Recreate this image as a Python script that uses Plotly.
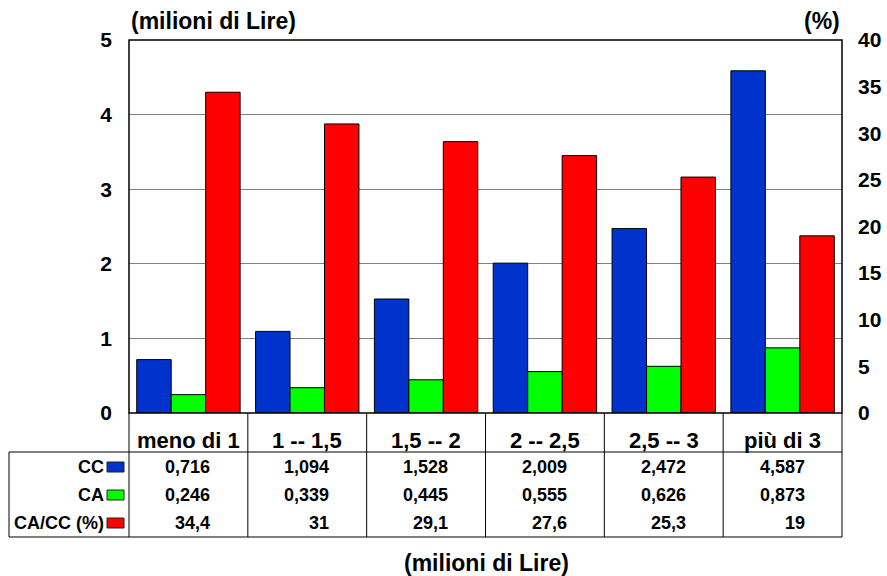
import plotly.graph_objects as go

categories = ["meno di 1", "1 -- 1,5", "1,5 -- 2", "2 -- 2,5", "2,5 -- 3", "più di 3"]
cc = [0.716, 1.094, 1.528, 2.009, 2.472, 4.587]
ca = [0.246, 0.339, 0.445, 0.555, 0.626, 0.873]
ratio = [34.4, 31, 29.1, 27.6, 25.3, 19]
cc_labels = ["0,716", "1,094", "1,528", "2,009", "2,472", "4,587"]
ca_labels = ["0,246", "0,339", "0,445", "0,555", "0,626", "0,873"]
ratio_labels = ["34,4", "31", "29,1", "27,6", "25,3", "19"]
row_names = ["CC", "CA", "CA/CC (%)"]

BLUE = "#0033CC"
GREEN = "#00FF00"
RED = "#FF0000"
FONT = "Liberation Sans, Arial, sans-serif"

W, H = 887, 576
L, R, T, B = 129, 45, 40, 163
pw, ph = W - L - R, H - T - B


def py(y):
    """pixel row -> paper y"""
    return (H - B - y) / ph


def px(x):
    """pixel column -> paper x"""
    return (x - L) / pw


def bold(size):
    return dict(size=size, family=FONT, color="black", weight="bold")


fig = go.Figure()
bar_line = dict(color="black", width=1)
fig.add_bar(x=categories, y=cc, marker=dict(color=BLUE, line=bar_line),
            offsetgroup="1", yaxis="y", name="CC")
fig.add_bar(x=categories, y=ca, marker=dict(color=GREEN, line=bar_line),
            offsetgroup="2", yaxis="y", name="CA")
fig.add_bar(x=categories, y=ratio, marker=dict(color=RED, line=bar_line),
            offsetgroup="3", yaxis="y2", name="CA/CC (%)")

shapes = []
annotations = []
line_k = dict(color="black", width=1)

# plot frame
shapes.append(dict(type="rect", xref="paper", yref="paper", x0=0, x1=1, y0=0, y1=1,
                   line=dict(color="black", width=1.5)))

# data table below the plot
header_bottom = py(452)
table_bottom = py(537)
left_edge = px(9)
shapes.append(dict(type="line", xref="paper", yref="paper", x0=left_edge, x1=1,
                   y0=header_bottom, y1=header_bottom, line=line_k))
shapes.append(dict(type="line", xref="paper", yref="paper", x0=left_edge, x1=1,
                   y0=table_bottom, y1=table_bottom, line=line_k))
shapes.append(dict(type="line", xref="paper", yref="paper", x0=left_edge, x1=left_edge,
                   y0=header_bottom, y1=table_bottom, line=line_k))
for i in range(len(categories) + 1):
    xp = i / len(categories)
    shapes.append(dict(type="line", xref="paper", yref="paper", x0=xp, x1=xp,
                       y0=0, y1=table_bottom, line=line_k))

for cat in categories:
    annotations.append(dict(x=cat, y=py(440), xref="x", yref="paper", text=cat,
                            xanchor="center", yanchor="middle",
                            showarrow=False, font=bold(22)))

rows = [cc_labels, ca_labels, ratio_labels]
row_y = [py(467), py(495), py(523)]
colors = [BLUE, GREEN, RED]
for labels, yy, name, col in zip(rows, row_y, row_names, colors):
    annotations.append(dict(x=px(106), y=yy, xref="paper", yref="paper", text=name,
                            xanchor="right", yanchor="middle", showarrow=False,
                            font=bold(18)))
    shapes.append(dict(type="rect", xref="paper", yref="paper", x0=px(107), x1=px(124),
                       y0=yy - 5 / ph, y1=yy + 5 / ph, fillcolor=col,
                       line=dict(color="#222222", width=1)))
    # values are right-aligned inside each column
    for cat, lab in zip(categories, labels):
        annotations.append(dict(x=cat, y=yy, xref="x", yref="paper", text=lab,
                                xanchor="right", yanchor="middle",
                                xshift=24, showarrow=False, font=bold(18)))

# axis captions
annotations.append(dict(x=0, y=py(21), xref="paper", yref="paper", text="(milioni di Lire)",
                        xanchor="left", yanchor="middle", showarrow=False, font=bold(23)))
annotations.append(dict(x=1, y=py(21), xref="paper", yref="paper", text="(%)",
                        xanchor="right", yanchor="middle", showarrow=False, font=bold(23)))
annotations.append(dict(x=px(486), y=py(563), xref="paper", yref="paper",
                        text="(milioni di Lire)", xanchor="center", yanchor="middle",
                        showarrow=False, font=bold(23)))

fig.update_layout(
    width=W, height=H,
    margin=dict(l=L, r=R, t=T, b=B, pad=0, autoexpand=False),
    paper_bgcolor="white", plot_bgcolor="white",
    barmode="group", bargap=0.13, bargroupgap=0,
    showlegend=False,
    font=dict(family=FONT, color="black"),
    xaxis=dict(type="category", range=[-0.5, 5.5], showticklabels=False,
               showgrid=False, zeroline=False, showline=False, ticks="", automargin=False),
    yaxis=dict(range=[0, 5], dtick=1, showgrid=True, gridcolor="#808080", gridwidth=1,
               zeroline=False, showline=False, ticks="", automargin=False,
               tickfont=bold(21), ticklabelstandoff=16),
    yaxis2=dict(range=[0, 40], dtick=5, overlaying="y", side="right", showgrid=False,
                zeroline=False, showline=False, ticks="", automargin=False,
                tickfont=bold(21), ticklabelstandoff=15),
    shapes=shapes,
    annotations=annotations,
)

fig.write_html("out.html")
